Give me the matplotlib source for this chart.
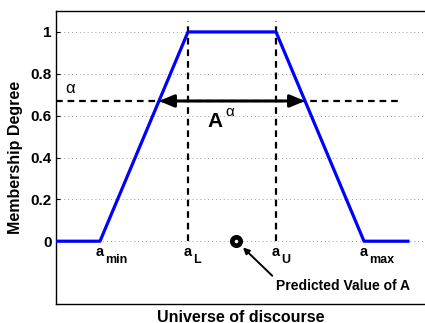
import numpy as np
import matplotlib
matplotlib.use("Agg")
import matplotlib.pyplot as plt

# ---- data ----
x_pts = [0, 1, 3, 5, 7, 8]          # universe positions of the trapezoid vertices
mu_pts = [0, 0, 1, 1, 0, 0]         # membership degree at those positions
label_x = [1, 3, 5, 7]              # a_min, a_L, a_U, a_max
label_sub = ["min", "L", "U", "max"]
alpha_level = 0.67
predicted_x = 4.1
y_ticks = [0, 0.2, 0.4, 0.6, 0.8, 1]
y_ticklabels = ["0", "0.2", "0.4", "0.6", "0.8", "1"]

plt.rcParams['font.family'] = ['Liberation Sans', 'DejaVu Sans']

fig = plt.figure(figsize=(4.25, 3.23), dpi=100)
ax = fig.add_axes([56/425, 19/323, 8.5*44/425, 293/323])
ax.set_xlim(0, 8.5)
ax.set_ylim(-0.3, 1.1)

# grid
ax.set_yticks(y_ticks)
ax.set_yticklabels(y_ticklabels, fontsize=11, fontweight='bold')
ax.set_xticks([])
ax.yaxis.grid(True, linestyle=(0, (1, 3)), color='#999999', linewidth=0.7)
ax.set_axisbelow(True)
ax.tick_params(axis='y', direction='in', length=3, pad=3, width=0.8)
ax.spines['right'].set_visible(False)
for s in ['left', 'top', 'bottom']:
    ax.spines[s].set_linewidth(1.0)

# vertical dashed lines at a_L and a_U
for xv in label_x[1:3]:
    ax.plot([xv, xv], [0, 1.05], color='black', lw=1.6, dashes=(3, 2.2), zorder=2)

# alpha cut horizontal dashed line
ax.plot([0, 7.82], [alpha_level, alpha_level], color='black', lw=1.6, dashes=(3, 2.2), zorder=2)

# membership function
ax.plot(x_pts, mu_pts, color=(0, 0, 1), lw=2.3, zorder=3)

# alpha-cut double arrow
xl = np.interp(alpha_level, [0, 1], [x_pts[1], x_pts[2]])
xr = np.interp(alpha_level, [0, 1], [x_pts[4], x_pts[3]])
ax.annotate('', xy=(xl, alpha_level), xytext=(xr, alpha_level),
            arrowprops=dict(arrowstyle='<|-|>,head_length=0.6,head_width=0.25',
                            color='black', lw=2.2,
                            mutation_scale=15, shrinkA=0, shrinkB=0), zorder=4)

# texts
ax.text(3.45, 0.546, 'A', fontsize=15, fontweight='bold', ha='left', va='baseline')
ax.text(3.84, 0.618, 'α', fontsize=11, ha='left', va='center')
ax.text(0.33, 0.732, 'α', fontsize=12, ha='center', va='center')

for xv, sub in zip(label_x, label_sub):
    ax.text(xv - 0.1, -0.071, 'a', fontsize=10.5, fontweight='bold', ha='left', va='baseline')
    ax.text(xv + 0.115, -0.106, sub, fontsize=9, fontweight='bold', ha='left', va='baseline')

# predicted value marker
ax.plot([predicted_x], [0], marker='o', markersize=6, markeredgewidth=3.4,
        markeredgecolor='black', markerfacecolor='white', zorder=5, clip_on=False)
ax.annotate('Predicted Value of A', xy=(predicted_x + 0.15, -0.03), xytext=(5.0, -0.235),
            fontsize=10, fontweight='bold', ha='left', va='baseline',
            arrowprops=dict(arrowstyle='-|>', color='black', lw=1.4,
                            mutation_scale=9, shrinkA=1, shrinkB=0,
                            relpos=(0.0, 1.0)))

fig.text(241/425, 1 - 317/323, 'Universe of discourse', fontsize=11.5,
         fontweight='bold', ha='center', va='center')
fig.text(16/425, 1 - 157.5/323, 'Membership Degree', fontsize=11.5,
         fontweight='bold', ha='center', va='center', rotation=90)

fig.savefig('out.png', dpi=100)
